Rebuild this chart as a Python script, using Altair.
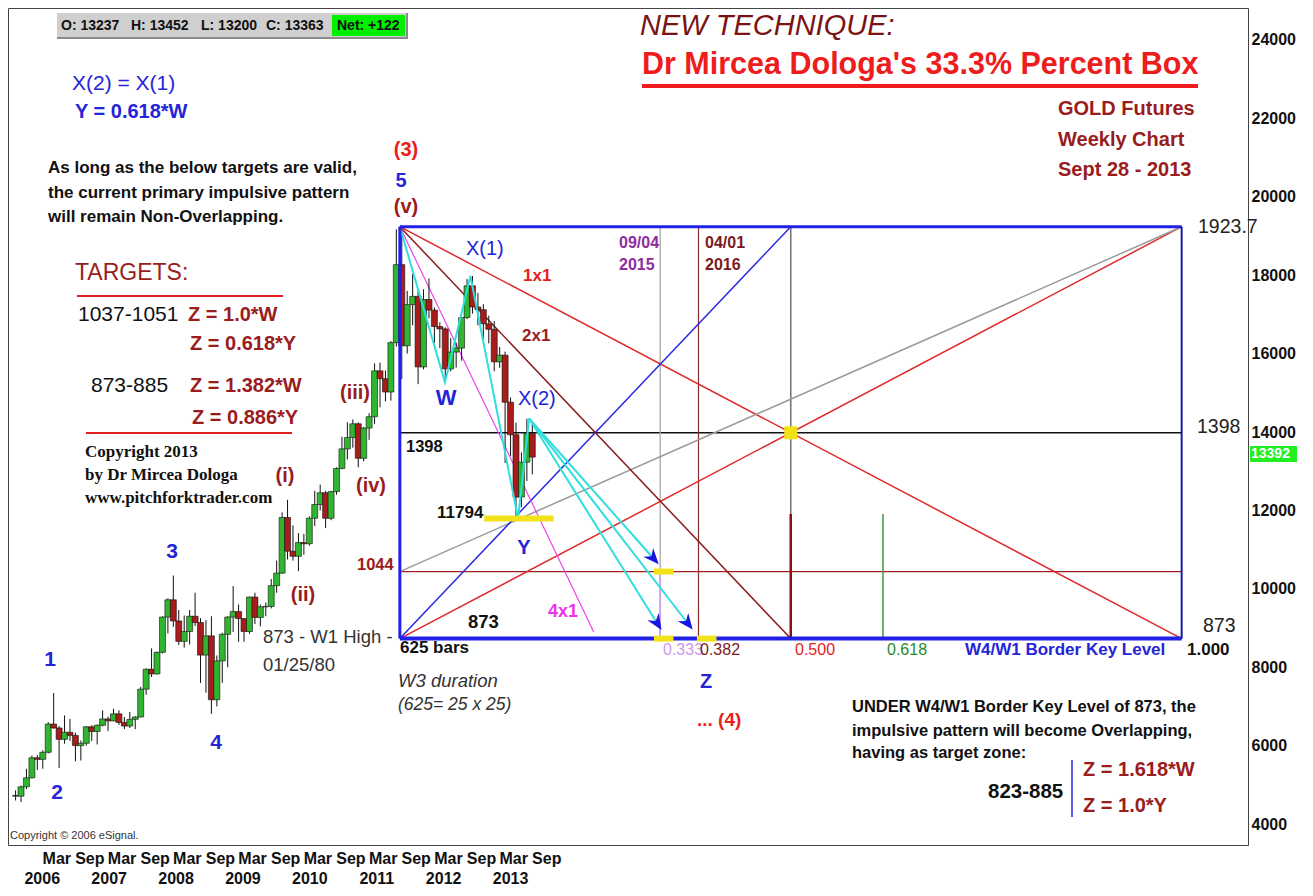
import math
import altair as alt
import pandas as pd

SANS = "Liberation Sans, Arial, sans-serif"
SERIF = "Liberation Serif, Times New Roman, serif"

# ---------------- data: monthly OHLC gold futures (USD/oz) ----------------
months = [str(p) for p in pd.period_range("2005-10", "2013-09", freq="M")]
opens = [473, 471, 495,
         518, 569, 565, 583, 655, 645, 616, 634, 626, 600, 606, 648,
         636, 652, 668, 663, 681, 659, 650, 667, 673, 744, 795, 783,
         838, 928, 972, 918, 866, 891, 930, 914, 831, 880, 717, 816,
         884, 928, 942, 924, 891, 979, 927, 954, 955, 1008, 1040, 1182,
         1096, 1083, 1118, 1115, 1180, 1215, 1245, 1180, 1248, 1307, 1357, 1386,
         1421, 1333, 1410, 1439, 1556, 1536, 1502, 1628, 1827, 1620, 1725, 1746,
         1566, 1738, 1711, 1669, 1663, 1561, 1604, 1614, 1692, 1773, 1719, 1712,
         1676, 1662, 1579, 1596, 1476, 1393, 1234, 1323, 1396]
highs = [486, 498, 541,
         575, 576, 588, 660, 734, 650, 677, 668, 633, 613, 650, 652,
         654, 690, 674, 694, 690, 673, 686, 675, 750, 797, 848, 840,
         930, 976, 1034, 946, 932, 946, 990, 925, 920, 930, 830, 888,
         930, 1007, 960, 925, 980, 990, 960, 965, 1025, 1072, 1195, 1227,
         1162, 1142, 1140, 1185, 1250, 1266, 1250, 1250, 1310, 1388, 1425, 1432,
         1425, 1413, 1448, 1575, 1577, 1557, 1632, 1917, 1924, 1760, 1804, 1764,
         1764, 1792, 1718, 1680, 1667, 1640, 1628, 1692, 1790, 1798, 1755, 1726,
         1697, 1683, 1617, 1605, 1488, 1424, 1348, 1434, 1427]
lows = [460, 456, 489,
        516, 538, 541, 580, 643, 543, 605, 612, 560, 562, 600, 612,
        603, 649, 637, 662, 653, 642, 645, 642, 672, 730, 775, 781,
        835, 886, 903, 857, 850, 858, 905, 760, 735, 681, 700, 760,
        800, 890, 865, 865, 885, 910, 904, 930, 950, 990, 1038, 1075,
        1072, 1045, 1087, 1110, 1160, 1200, 1155, 1175, 1240, 1305, 1330, 1360,
        1310, 1325, 1380, 1420, 1463, 1478, 1480, 1618, 1535, 1600, 1672, 1522,
        1560, 1690, 1627, 1614, 1527, 1555, 1564, 1582, 1688, 1702, 1672, 1635,
        1626, 1555, 1564, 1321, 1339, 1180, 1208, 1275, 1292]
closes = [471, 495, 518,
          569, 565, 583, 655, 645, 616, 634, 626, 600, 606, 648, 636,
          652, 668, 663, 681, 659, 650, 667, 673, 744, 795, 783, 838,
          928, 972, 918, 866, 891, 930, 914, 831, 880, 717, 816, 884,
          928, 942, 924, 891, 979, 927, 954, 955, 1008, 1040, 1182, 1096,
          1083, 1118, 1115, 1180, 1215, 1245, 1180, 1248, 1307, 1357, 1386, 1421,
          1333, 1410, 1439, 1556, 1536, 1502, 1628, 1827, 1620, 1725, 1746, 1566,
          1738, 1711, 1669, 1663, 1561, 1604, 1614, 1692, 1773, 1719, 1712, 1676,
          1662, 1579, 1596, 1476, 1393, 1234, 1323, 1396, 1336]

# 33.3% box definition
peak_year = 2011.679          # Sept 6, 2011
box_bars = 625                # weekly bars (25 x 25)
box_top = 19237               # 1923.7
box_bottom = 8730             # 873 (W4/W1 border key level)
level_1398 = 13980
level_1044 = 10440
level_y = 11794

# W-X-Y corrective path
wxy_years = [2011.679, 2012.37, 2012.76, 2013.49, 2013.66]
wxy_prices = [19237, 15270, 17980, 11794, 14345]
# projected Z targets (fraction of box width, price)
target_fracs = [0.324, 0.329, 0.368]
target_prices = [10786, 9128, 9128]

years = list(range(2006, 2014))
y_ticks = list(range(4000, 24001, 2000))

# ---------------- scales ----------------
W, H = 1240, 837
X0, X1 = 2005.752, 2024.597
Y0, Y1 = 3465, 24816
xs = alt.Scale(domain=[X0, X1], nice=False, zero=False)
ys = alt.Scale(domain=[Y0, Y1], nice=False, zero=False)

box_years = box_bars * 7 / 365.25


def fx(f):
    return peak_year + f * box_years


GREEN = "#2fb52f"
CRED = "#a81c1c"
BLUE = "#2424d8"
DRED = "#9a1c1c"
RED = "#e8201c"

cdf = pd.DataFrame({"m": months, "o": [v * 10 for v in opens], "h": [v * 10 for v in highs],
                    "l": [v * 10 for v in lows], "c": [v * 10 for v in closes]})
cdf["t"] = cdf["m"].str[:4].astype(int) + (cdf["m"].str[5:].astype(int) - 0.5) / 12

x_ticks = sorted([y + 2 / 12 for y in years] + [y + 8 / 12 for y in years])
xaxis = alt.Axis(values=x_ticks, labelExpr="datum.value - floor(datum.value) < 0.4 ? 'Mar' : 'Sep'",
                 labelAlign="left", labelOffset=2, labelFont=SANS, labelFontSize=16, labelFontWeight="bold",
                 labelColor="#111", labelPadding=5, ticks=False, domain=False, grid=False, title=None,
                 labelOverlap=False, labelFlush=False, labelBound=False)
yaxis = alt.Axis(orient="right", values=y_ticks, format="d", labelFont=SANS, labelFontSize=16,
                 labelFontWeight="bold", labelColor="#111", labelPadding=3, ticks=False, domain=False,
                 grid=False, title=None, labelOverlap=False)


def X(field):
    return alt.X(field, scale=xs, axis=xaxis)


def Y(field):
    return alt.Y(field, scale=ys, axis=yaxis)


base = alt.Chart(cdf)
wick = base.mark_rule(color="#111", strokeWidth=1).encode(x=X("t:Q"), y=Y("l:Q"), y2="h:Q")
body = base.mark_bar(size=6, stroke="#111", strokeWidth=0.6).encode(
    x=X("t:Q"), y=Y("o:Q"), y2="c:Q",
    color=alt.condition("datum.c >= datum.o", alt.value(GREEN), alt.value(CRED)))

# ---------------- box geometry ----------------
segs = [
    (0, level_1398, 1, level_1398, "#111111", 1.5),
    (0, level_1044, 1, level_1044, "#a02020", 1.2),
    (0.333, box_bottom, 0.333, box_top, "#a8a8a8", 1.3),
    (0.333, box_bottom, 0.333, level_1044, "#cc99ee", 1.5),
    (0.382, box_bottom, 0.382, box_top, "#8b2a2a", 1.2),
    (0.5, box_bottom, 0.5, box_top, "#777777", 1.6),
    (0.5, box_bottom, 0.5, 11908, "#8b1010", 2.5),
    (0.618, box_bottom, 0.618, 11908, "#3a9a3a", 1.5),
    (0, box_top, 1, box_bottom, "#e02828", 1.5),
    (0, box_bottom, 1, box_top, "#e02828", 1.5),
    (0, level_1044, 1, box_top, "#9a9a9a", 1.5),
    (0, box_bottom, 0.5, box_top, "#2a2ae0", 1.5),
    (0, box_top, 0.5, box_bottom, "#8b1c1c", 1.5),
    (0, box_top, 0.248, 8898, "#ee44ee", 1.2),
]
sdf = pd.DataFrame([(fx(a), b, fx(c), d, col, w) for a, b, c, d, col, w in segs],
                   columns=["x", "y", "x2", "y2", "col", "w"])
seg_layer = alt.Chart(sdf).mark_rule().encode(
    x=X("x:Q"), y=Y("y:Q"), x2="x2:Q", y2="y2:Q",
    color=alt.Color("col:N", scale=None), strokeWidth=alt.StrokeWidth("w:Q", scale=None))

border = [
    (0, box_top, 1, box_top, "#2020e8", 3),
    (0, box_bottom, 1, box_bottom, "#2020e8", 4),
    (0, box_bottom, 0, box_top, "#2020e8", 3),
    (1, box_bottom, 1, box_top, "#1a1aa0", 2),
]
bdf = pd.DataFrame([(fx(a), b, fx(c), d, col, w) for a, b, c, d, col, w in border],
                   columns=["x", "y", "x2", "y2", "col", "w"])
border_layer = alt.Chart(bdf).mark_rule().encode(
    x=X("x:Q"), y=Y("y:Q"), x2="x2:Q", y2="y2:Q",
    color=alt.Color("col:N", scale=None), strokeWidth=alt.StrokeWidth("w:Q", scale=None))

# cyan W-X-Y path
wdf = pd.DataFrame({"x": wxy_years, "y": wxy_prices, "i": range(len(wxy_years))})
wxy_layer = alt.Chart(wdf).mark_line(color="#30dede", strokeWidth=2).encode(
    x=X("x:Q"), y=Y("y:Q"), order="i:Q")

# projection arrows
px_per_x = W / (X1 - X0)
px_per_y = H / (Y1 - Y0)
arr = []
for f, p in zip(target_fracs, target_prices):
    tx = fx(f)
    dx = (tx - wxy_years[-1]) * px_per_x
    dy = (wxy_prices[-1] - p) * px_per_y
    ang = 360 - math.degrees(math.atan2(dx, dy))
    arr.append((wxy_years[-1], wxy_prices[-1], tx, p, ang))
adf = pd.DataFrame(arr, columns=["x", "y", "x2", "y2", "ang"])
arrow_lines = alt.Chart(adf).mark_rule(color="#30dede", strokeWidth=2).encode(
    x=X("x:Q"), y=Y("y:Q"), x2="x2:Q", y2="y2:Q")
arrow_heads = alt.Chart(adf).mark_point(
    shape="M0,1 L-0.8,-0.9 L0,-0.3 L0.8,-0.9 Z", filled=True, color="#1515e0", size=280, opacity=1).encode(
    x=X("x2:Q"), y=Y("y2:Q"), angle=alt.Angle("ang:Q", scale=None))

# yellow highlights
yel = [
    (2012.971, level_y, 2014.035, level_y),
    (fx(0.325), level_1044, fx(0.35), level_1044),
    (fx(0.325), box_bottom, fx(0.35), box_bottom),
    (fx(0.38), box_bottom, fx(0.405), box_bottom),
]
ydf = pd.DataFrame(yel, columns=["x", "y", "x2", "y2"])
yel_layer = alt.Chart(ydf).mark_rule(color="#f2e21a", strokeWidth=6).encode(
    x=X("x:Q"), y=Y("y:Q"), x2="x2:Q", y2="y2:Q")
dot_layer = alt.Chart(pd.DataFrame({"x": [fx(0.5)], "y": [level_1398]})).mark_point(
    shape="square", filled=True, color="#f2e21a", size=170, opacity=1).encode(
    x=X("x:Q"), y=Y("y:Q"))

# year labels under the month labels
yrdf = pd.DataFrame({"x": [y + 0.20 + 0.025 * (y - 2006) for y in years], "s": [str(y) for y in years]})
year_layer = alt.Chart(yrdf).mark_text(font=SANS, fontSize=16, fontWeight="bold", color="#111",
                                       align="center", baseline="middle").encode(
    x=X("x:Q"), y=alt.value(871), text="s:N")

# ---------------- annotations (page px) ----------------
DUMMY = pd.DataFrame({"k": [0]})


def txt(s, x, y, size, color, weight="bold", style="normal", font=SANS, align="left", baseline="middle"):
    return alt.Chart(DUMMY).mark_text(text=s, fontSize=size, color=color, fontWeight=weight,
                                      fontStyle=style, font=font, align=align, baseline=baseline).encode(
        x=alt.value(x - 8), y=alt.value(y - 8))


def hline(x1, x2, y, color, w):
    return alt.Chart(DUMMY).mark_rule(color=color, strokeWidth=w).encode(
        x=alt.value(x1 - 8), x2=alt.value(x2 - 8), y=alt.value(y - 8))


def vline(x, y1, y2, color, w):
    return alt.Chart(DUMMY).mark_rule(color=color, strokeWidth=w).encode(
        x=alt.value(x - 8), y=alt.value(y1 - 8), y2=alt.value(y2 - 8))


def box(x1, x2, y1, y2, color):
    return alt.Chart(DUMMY).mark_rect(color=color).encode(
        x=alt.value(x1 - 8), x2=alt.value(x2 - 8), y=alt.value(y1 - 8), y2=alt.value(y2 - 8))


PURPLE = "#8e2ca0"
DRED2 = "#7e1a1a"
MAG = "#ee33ee"
LAV = "#cc99ee"
GRN = "#2a8a2a"

notes = [
    box(57, 408, 13, 39, "#8a8a8a"), box(57, 406, 13, 37, "#cfcfcf"), box(332, 405, 15, 36, "#00ee00"),
    txt("O: 13237", 61, 26, 14, "#111"), txt("H: 13452", 131, 26, 14, "#111"),
    txt("L: 13200", 201, 26, 14, "#111"), txt("C: 13363", 266, 26, 14, "#111"),
    txt("Net: +122", 337, 26, 14, "#111"),
    txt("X(2) = X(1)", 72, 84, 21, BLUE, "normal"),
    txt("Y = 0.618*W", 75, 112, 20, BLUE, "bold"),
    txt("As long as the below targets are valid,", 48, 168, 17, "#111"),
    txt("the current primary impulsive pattern", 48, 193, 17, "#111"),
    txt("will remain Non-Overlapping.", 48, 217, 17, "#111"),
    txt("TARGETS:", 75, 273, 23, DRED, "normal"),
    hline(77, 283, 296, "#e02020", 2),
    txt("1037-1051", 78, 315, 21, "#111", "normal"),
    txt("Z = 1.0*W", 188, 315, 20, DRED),
    txt("Z = 0.618*Y", 190, 344, 20, DRED),
    txt("873-885", 91, 386, 21, "#111", "normal"),
    txt("Z = 1.382*W", 190, 386, 20, DRED),
    txt("Z = 0.886*Y", 192, 418, 20, DRED),
    hline(86, 292, 433, "#e02020", 2),
    txt("Copyright 2013", 85, 452, 17, "#111", font=SERIF),
    txt("by Dr Mircea Dologa", 85, 475, 17, "#111", font=SERIF),
    txt("www.pitchforktrader.com", 85, 498, 17, "#111", font=SERIF),
    txt("1", 50, 660, 21, BLUE, align="center"),
    txt("2", 57, 793, 21, BLUE, align="center"),
    txt("3", 172, 552, 21, BLUE, align="center"),
    txt("4", 216, 743, 21, BLUE, align="center"),
    txt("(i)", 285, 476, 20, DRED, align="center"),
    txt("(ii)", 303, 595, 20, DRED, align="center"),
    txt("(iii)", 355, 393, 20, DRED, align="center"),
    txt("(iv)", 371, 486, 20, DRED, align="center"),
    txt("(v)", 406, 207, 20, DRED, align="center"),
    txt("(3)", 406, 150, 20, RED, align="center"),
    txt("5", 401, 181, 20, BLUE, align="center"),
    txt("873 - W1 High -", 263, 637, 18.5, "#333", "normal"),
    txt("01/25/80", 263, 665, 18.5, "#333", "normal"),
    txt("1044", 357, 565, 16.5, DRED),
    txt("1398", 406, 447, 16.5, "#111"),
    txt("11794", 437, 513, 17, "#111"),
    txt("873", 468, 622, 18.5, "#111"),
    txt("625 bars", 400, 648, 17, "#111"),
    txt("W3 duration", 398, 681, 18.5, "#333", "normal", "italic"),
    txt("(625= 25 x 25)", 398, 705, 17.5, "#333", "normal", "italic"),
    txt("W", 446, 398, 22, BLUE, align="center"),
    txt("X(1)", 466, 249, 20, BLUE, "normal"),
    txt("X(2)", 518, 399, 20, BLUE, "normal"),
    txt("Y", 524, 548, 20, BLUE, align="center"),
    txt("1x1", 523, 276, 17, RED),
    txt("2x1", 522, 336, 17, DRED),
    txt("4x1", 548, 612, 18, MAG),
    txt("09/04", 619, 243, 16, PURPLE), txt("2015", 619, 265, 16, PURPLE),
    txt("04/01", 705, 243, 16, DRED2), txt("2016", 705, 265, 16, DRED2),
    txt("0.333", 663, 650, 16, LAV, "normal"),
    txt("0.382", 700, 650, 16, DRED2, "normal"),
    txt("0.500", 795, 650, 16, RED, "normal"),
    txt("0.618", 887, 650, 16, GRN, "normal"),
    txt("W4/W1 Border Key Level", 965, 650, 17, BLUE),
    txt("1.000", 1187, 650, 17, "#111"),
    txt("Z", 706, 682, 20, BLUE, align="center"),
    txt("... (4)", 697, 720, 19, RED),
    txt("1923.7", 1198, 227, 19.5, "#222", "normal"),
    txt("1398", 1197, 427, 19.5, "#222", "normal"),
    txt("873", 1203, 626, 19.5, "#222", "normal"),
    txt("NEW TECHNIQUE:", 640, 26, 29, "#7a1414", "normal", "italic"),
    txt("Dr Mircea Dologa's 33.3% Percent Box", 642, 65, 30.5, "#ee1c1c"),
    hline(642, 1198, 86, "#ee1c1c", 4),
    txt("GOLD Futures", 1058, 109, 20, DRED), txt("Weekly Chart", 1058, 140, 20, DRED),
    txt("Sept 28 - 2013", 1058, 170, 20, DRED),
    txt("UNDER W4/W1 Border Key Level of 873, the", 852, 707, 16.5, "#111"),
    txt("impulsive pattern will become Overlapping,", 852, 731, 16.5, "#111"),
    txt("having as target zone:", 852, 753, 16.5, "#111"),
    txt("823-885", 988, 792, 20.5, "#111"),
    vline(1072, 760, 817, "#2a2ae0", 1.5),
    txt("Z = 1.618*W", 1083, 770, 20, DRED),
    txt("Z = 1.0*Y", 1083, 806, 20, DRED),
    txt("Copyright \u00a9 2006 eSignal.", 10, 836, 11, "#333", "normal"),
    box(1250, 1297, 446, 462, "#22ee22"),
    txt("13392", 1251, 454, 14, "#ffffff"),
]

layers = [seg_layer, wick, body, wxy_layer, arrow_lines, border_layer, yel_layer, dot_layer,
          arrow_heads, year_layer] + notes

chart = alt.layer(*layers).properties(
    width=W, height=H, background="white",
    autosize=alt.AutoSizeParams(type="none"),
    padding={"left": 0, "top": 0, "right": 57, "bottom": 43},
).configure_view(stroke="#444", strokeWidth=1)

chart.save("out.html", embed_options={"renderer": "svg", "actions": False})
